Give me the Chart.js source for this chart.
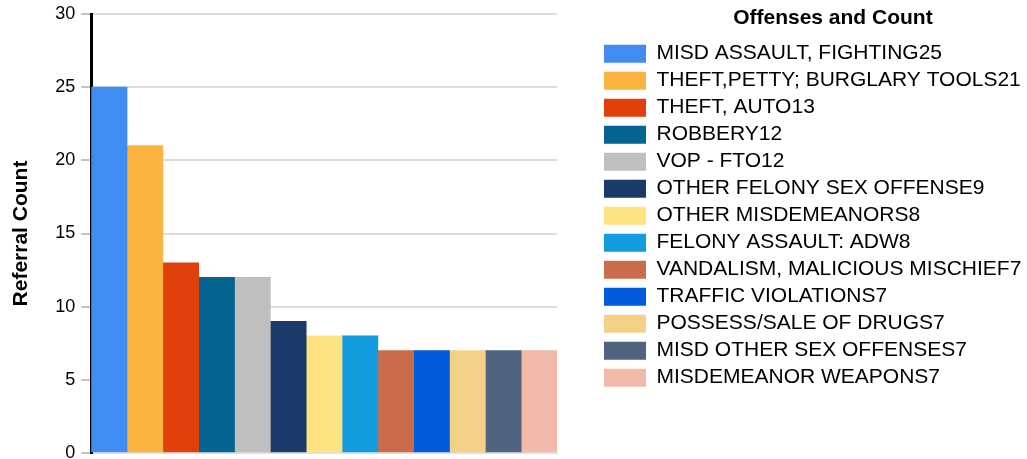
<!DOCTYPE html>
<html>
<head>
<meta charset="utf-8">
<script src="https://cdn.jsdelivr.net/npm/chart.js@4/dist/chart.umd.min.js"></script>
<style>
    html, body { margin: 0; padding: 0; background: #fff; }
    #wrap { width: 1027px; height: 459px; position: relative; }
</style>
</head>
<body>
<div id="wrap"><canvas id="chart"></canvas></div>
<script>
var offenses = [
    "MISD ASSAULT, FIGHTING",
    "THEFT,PETTY; BURGLARY TOOLS",
    "THEFT, AUTO",
    "ROBBERY",
    "VOP - FTO",
    "OTHER FELONY SEX OFFENSE",
    "OTHER MISDEMEANORS",
    "FELONY ASSAULT: ADW",
    "VANDALISM, MALICIOUS MISCHIEF",
    "TRAFFIC VIOLATIONS",
    "POSSESS/SALE OF DRUGS",
    "MISD OTHER SEX OFFENSES",
    "MISDEMEANOR WEAPONS"
];
var counts = [25, 21, 13, 12, 12, 9, 8, 8, 7, 7, 7, 7, 7];
var colors = ["#418CF0", "#FCB441", "#E0400A", "#056492", "#BFBFBF", "#1A3B69", "#FFE382",
    "#129CDD", "#CA6B4B", "#005CDB", "#F3D288", "#506381", "#F1B9A8"];
var yTicks = [0, 5, 10, 15, 20, 25, 30];

Chart.defaults.font.family = "'Liberation Sans', Arial, sans-serif";
Chart.defaults.color = "#000";

var datasets = [];
for (var i = 0; i < offenses.length; i++) {
    datasets.push({
        label: offenses[i] + counts[i],
        data: [counts[i]],
        backgroundColor: colors[i],
        borderWidth: 0,
        categoryPercentage: 1,
        barPercentage: 1
    });
}

var chart = new Chart("chart", {
    type: "bar",
    data: {
        labels: [""],
        datasets: datasets
    },
    options: {
        responsive: true,
        maintainAspectRatio: false,
        animation: false,
        layout: {
            padding: { top: 7, right: 0, bottom: 6, left: 9 }
        },
        plugins: {
            tooltip: { enabled: false },
            legend: {
                position: "right",
                align: "start",
                maxWidth: 429,
                title: {
                    display: true,
                    // leading spaces nudge the centred title to the right
                    text: "       Offenses and Count",
                    position: "center",
                    font: { size: 21, weight: "bold" },
                    padding: { top: 1, bottom: 4 }
                },
                labels: {
                    boxWidth: 42,
                    boxHeight: 18,
                    padding: 6,
                    font: { size: 21 },
                    color: "#000"
                }
            }
        },
        scales: {
            x: {
                grid: { display: false, drawTicks: false },
                ticks: { display: false },
                border: { color: "#e0e0e0", width: 2 }
            },
            y: {
                min: 0,
                max: 30,
                afterBuildTicks: function (axis) {
                    axis.ticks = yTicks.map(function (v) { return { value: v }; });
                },
                afterFit: function (axis) {
                    axis.paddingTop = 14;
                    axis.paddingBottom = 0;
                },
                ticks: {
                    font: { size: 18 },
                    color: "#000",
                    padding: 6
                },
                grid: {
                    color: "#dcdcdc",
                    lineWidth: 2,
                    tickLength: 10,
                    tickColor: "#888",
                    tickWidth: 1
                },
                border: { color: "#000", width: 3 },
                title: {
                    display: true,
                    text: "Referral Count",
                    font: { size: 21, weight: "bold" },
                    padding: { top: 0, bottom: 15 }
                }
            },
            // empty axis on the right, only keeps a gap before the legend
            gap: {
                type: "linear",
                position: "right",
                display: true,
                grid: { display: false, drawTicks: false },
                ticks: { display: false },
                border: { display: false },
                afterFit: function (axis) { axis.width = 41; }
            }
        }
    }
});
</script>
</body>
</html>
